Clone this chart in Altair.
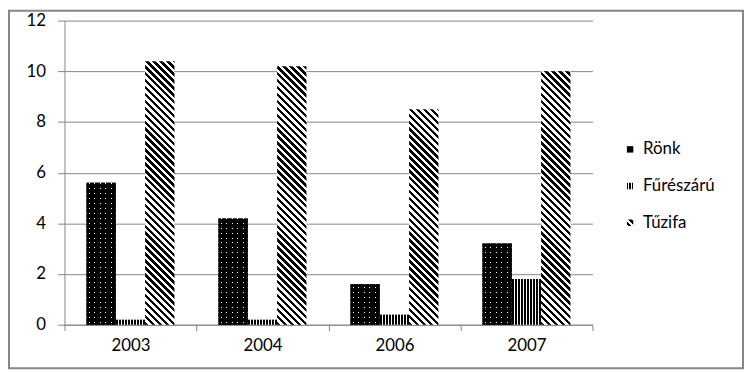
import math
import altair as alt
import pandas as pd

# ---- data ----
years = ["2003", "2004", "2006", "2007"]
series = ["Rönk", "Fűrészárú", "Tűzifa"]
ronk = [5.6, 4.2, 1.6, 3.2]
fureszaru = [0.2, 0.2, 0.4, 1.8]
tuzifa = [10.4, 10.2, 8.5, 10.0]
y_ticks = [0, 2, 4, 6, 8, 10, 12]

values = {"Rönk": ronk, "Fűrészárú": fureszaru, "Tűzifa": tuzifa}
df = pd.DataFrame(
    [{"year": yr, "series": s, "value": values[s][i]}
     for s in series for i, yr in enumerate(years)]
)
legend_df = pd.DataFrame({"series": series})

# ---- layout / style ----
W, H = 533, 307
Y_MAX = 12
GRAY = "#868686"
FONT = "Lato"
FS = 17
PX = H / Y_MAX                 # pixels per unit on y
BAR_W = W / len(years) / 4.5   # width of one bar (xOffset band)
CLEAR = "rgba(0,0,0,0)"


def stripe_stops(period, on, c_on, c_off, phase=0.0):
    """Hard-edged repeating stripes as gradient stops on t in [0, 1]."""
    stops = []
    k = math.floor(-phase / period) - 1
    while True:
        a = phase + k * period
        if a >= 1:
            break
        b = a + on
        for s, e, c in ((a, b, c_on), (b, a + period, c_off)):
            s2, e2 = max(0.0, s), min(1.0, e)
            if e2 > s2:
                stops.append(alt.GradientStop(offset=round(s2, 5), color=c))
                stops.append(alt.GradientStop(offset=round(e2, 5), color=c))
        k += 1
    return stops


def vertical_stripes(width, period, on, phase, c_on="black", c_off="white"):
    return alt.LinearGradient(
        gradient="linear", x1=0, y1=0, x2=1, y2=0,
        stops=stripe_stops(period / width, on / width, c_on, c_off, phase / width))


def horizontal_stripes(height, period, on, phase, c_on, c_off):
    return alt.LinearGradient(
        gradient="linear", x1=0, y1=1, x2=0, y2=0,
        stops=stripe_stops(period / height, on / height, c_on, c_off, phase / height))


def diagonal_stripes(w, h, hperiod, on_frac, phase=0.0):
    # stripes running top-left -> bottom-right ("\") in pixel space
    c = (1 / h + 1 / w) / (1 / h ** 2 + 1 / w ** 2)
    vx, vy = c / h, -c / w
    per = hperiod / (w + h)
    return alt.LinearGradient(
        gradient="linear", x1=0, y1=1, x2=vx, y2=1 + vy,
        stops=stripe_stops(per, per * on_frac, "black", "white", phase * per))


# ---- shared encodings for the bars ----
x_enc = alt.X(
    "year:N",
    scale=alt.Scale(domain=years, paddingInner=0, paddingOuter=0),
    axis=alt.Axis(title=None, labelAngle=0, domainColor=GRAY, tickColor=GRAY,
                  tickSize=6, tickBand="extent", labelPadding=7, grid=False,
                  labelFont=FONT, labelFontSize=FS, labelColor="black"),
)
xo_enc = alt.XOffset(
    "series:N", scale=alt.Scale(domain=series, paddingInner=0, paddingOuter=0.75)
)
y_enc = alt.Y(
    "value:Q",
    scale=alt.Scale(domain=[0, Y_MAX], nice=False),
    axis=alt.Axis(title=None, values=y_ticks, domainColor=GRAY, tickColor=GRAY,
                  tickSize=7, gridColor=GRAY, grid=True, labelPadding=12,
                  labelFont=FONT, labelFontSize=FS, labelColor="black"),
)

base = alt.Chart(df)
bar_layers = []

# Fűrészárú: vertical stripes (same for every bar)
bar_layers.append(
    base.transform_filter(alt.datum.series == "Fűrészárú")
    .mark_bar(fill=vertical_stripes(BAR_W, 3.0, 1.7, 0.6))
    .encode(x=x_enc, xOffset=xo_enc, y=y_enc)
)

# Tűzifa: diagonal stripes, one gradient per bar (depends on bar height)
for i, yr in enumerate(years):
    h = tuzifa[i] * PX
    bar_layers.append(
        base.transform_filter((alt.datum.series == "Tűzifa") & (alt.datum.year == yr))
        .mark_bar(fill=diagonal_stripes(BAR_W, h, 7.0, 0.5))
        .encode(x=x_enc, xOffset=xo_enc, y=y_enc)
    )

# Rönk: black with white dots = horizontal white lines under a black layer with clear slits
for i, yr in enumerate(years):
    h = ronk[i] * PX
    bar_layers.append(
        base.transform_filter((alt.datum.series == "Rönk") & (alt.datum.year == yr))
        .mark_bar(fill=horizontal_stripes(h, 5.0, 1.0, 2.0, "white", "black"))
        .encode(x=x_enc, xOffset=xo_enc, y=y_enc)
    )
bar_layers.append(
    base.transform_filter(alt.datum.series == "Rönk")
    .mark_bar(fill=vertical_stripes(BAR_W, 5.5, 1.0, 2.5, c_on=CLEAR, c_off="black"))
    .encode(x=x_enc, xOffset=xo_enc, y=y_enc)
)

bars = alt.layer(*bar_layers)

# ---- legend (drawn as its own small layer) ----
ly = alt.Y("series:N",
           scale=alt.Scale(domain=series, type="point", range=[130, 204], padding=0),
           axis=None)
legend_fills = {
    "Rönk": "black",
    "Fűrészárú": vertical_stripes(6.5, 2.2, 1.3, 0.3),
    "Tűzifa": alt.LinearGradient(
        gradient="linear", x1=0, y1=1, x2=1, y2=0,
        stops=stripe_stops(0.5, 0.27, "black", "white", 0.1)),
}
legend_layers = [
    alt.Chart(legend_df).transform_filter(alt.datum.series == s)
    .mark_square(size=42, fill=legend_fills[s], opacity=1)
    .encode(x=alt.value(571), y=ly)
    for s in series
]
legend_layers.append(
    alt.Chart(legend_df)
    .mark_text(align="left", baseline="middle", font=FONT, fontSize=FS, color="black")
    .encode(x=alt.value(584), y=ly, text="series:N")
)
legend = alt.layer(*legend_layers)

# ---- outer frame ----
frame = alt.Chart(pd.DataFrame({"k": [0]})).mark_rect(
    filled=False, stroke=GRAY, strokeWidth=2
).encode(x=alt.value(-56), x2=alt.value(685), y=alt.value(-10), y2=alt.value(351))

chart = (
    alt.layer(frame, bars, legend)
    .resolve_scale(y="independent")
    .properties(width=W, height=H, padding=0)
    .configure_view(strokeWidth=0)
)

chart.save("out.html", embed_options={"renderer": "svg", "actions": False})
